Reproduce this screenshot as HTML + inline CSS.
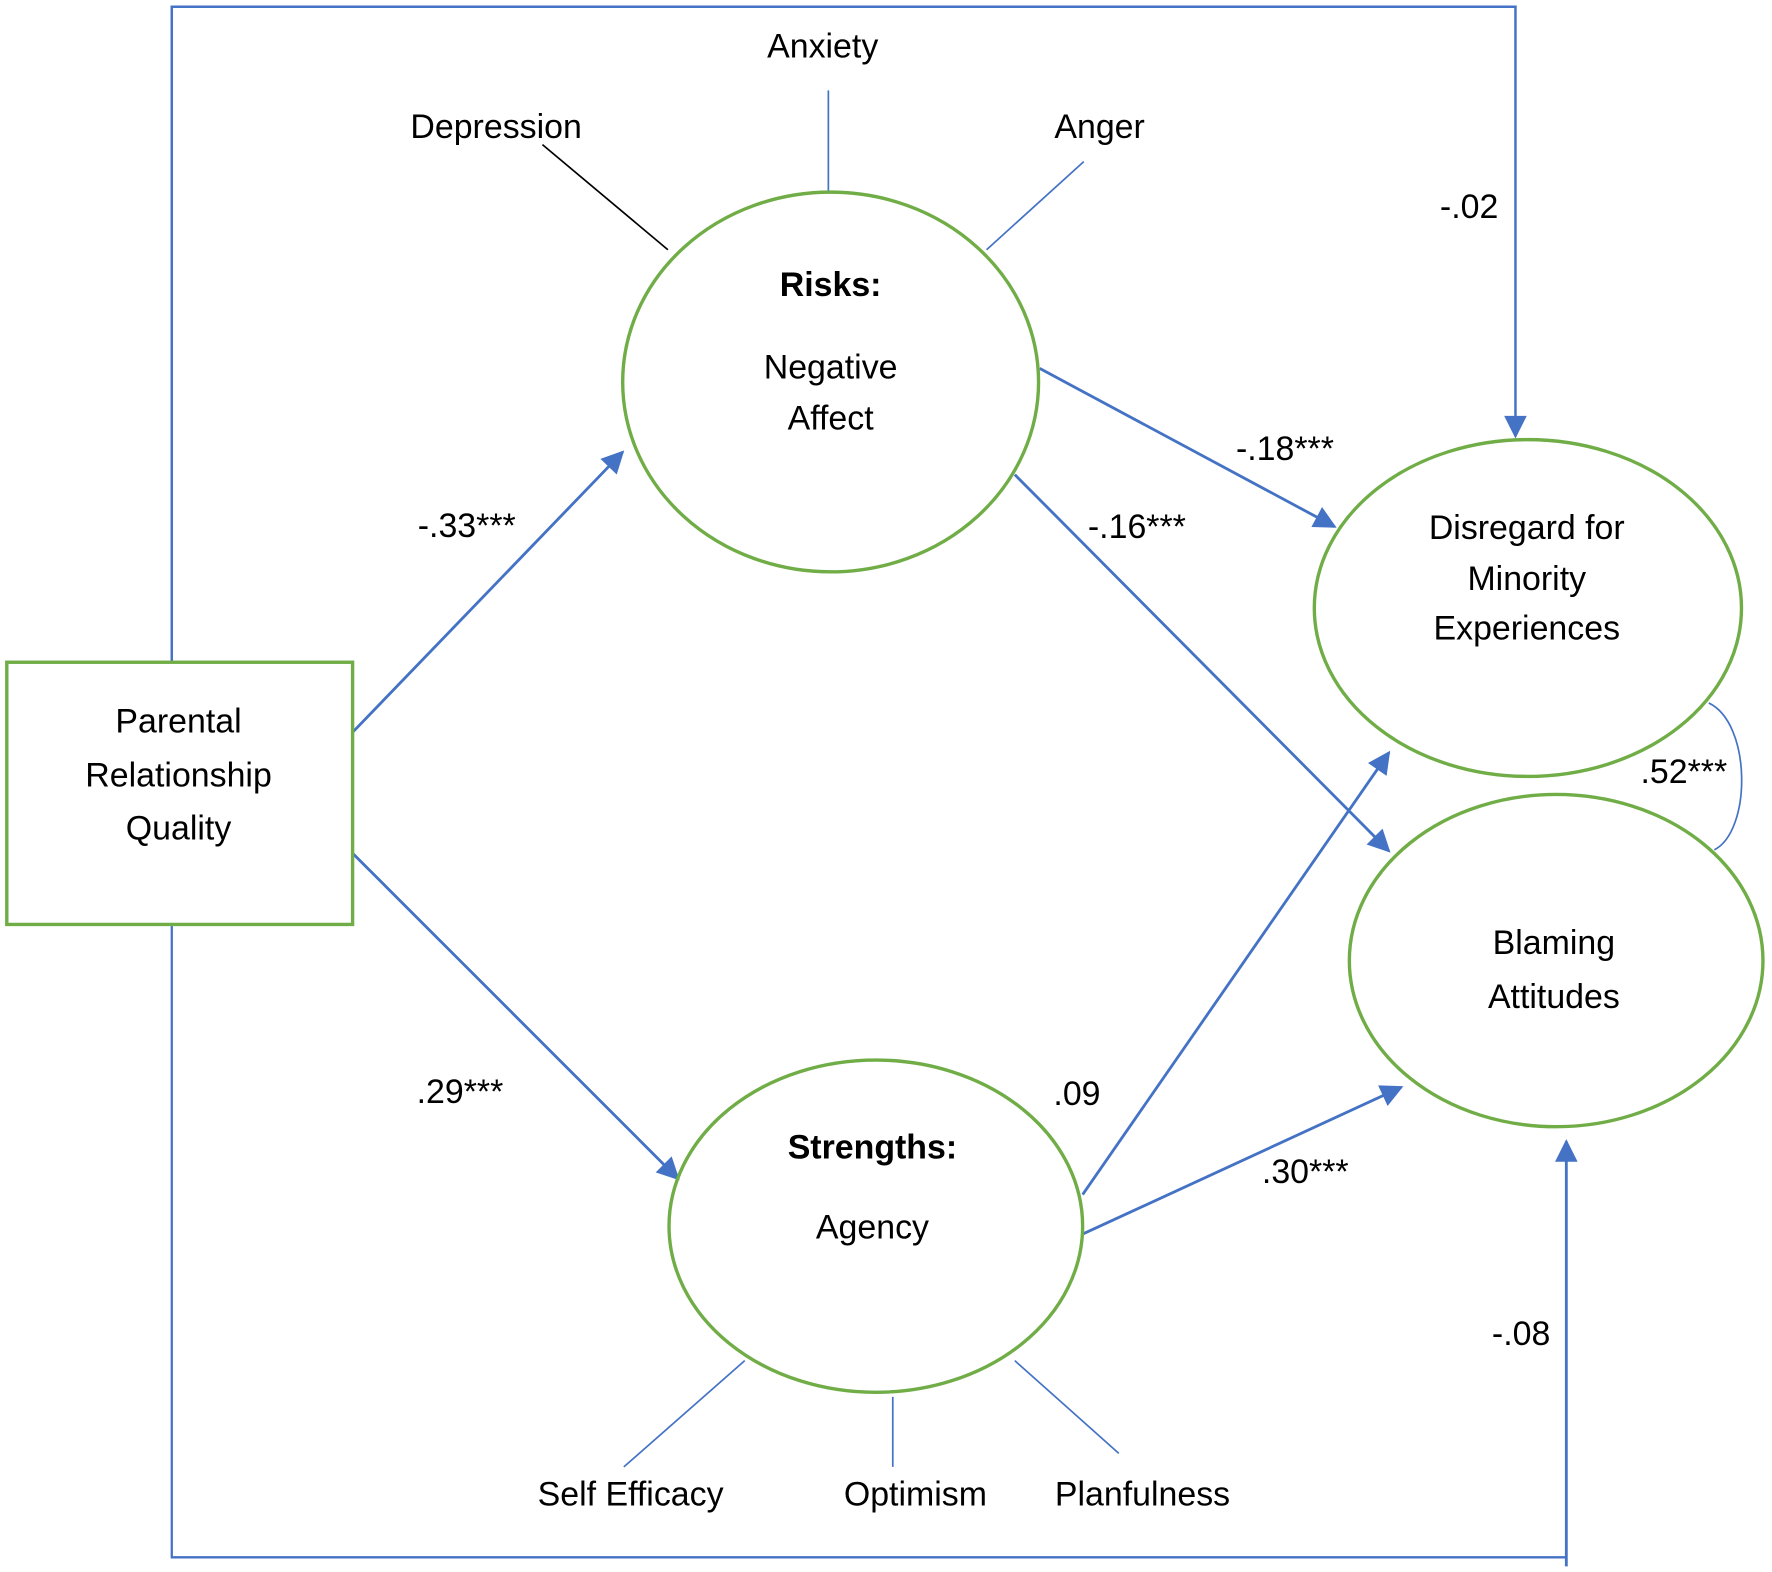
<!DOCTYPE html>
<html><head><style>html,body{margin:0;padding:0;background:#fff}svg{display:block}</style></head>
<body>
<svg width="1772" height="1572" viewBox="0 0 1568 1391" preserveAspectRatio="none" xmlns="http://www.w3.org/2000/svg">
<defs>
<marker id="ar" viewBox="0 0 10 10" refX="9" refY="5" markerWidth="22" markerHeight="20" markerUnits="userSpaceOnUse" orient="auto"><path d="M0,0 L10,5 L0,10 z" fill="#4472C4"/></marker>
</defs>
<g fill="none" stroke="#4472C4" stroke-width="2">
<polyline points="152,585 152,6 1341,6 1341,386" marker-end="url(#ar)" stroke-width="2.2"/>
<polyline points="152,818 152,1378 1386,1378"/>
<line x1="1386" y1="1386" x2="1386" y2="1010" marker-end="url(#ar)" stroke-width="2.5"/>
</g>
<g stroke="#4472C4" stroke-width="2.5" fill="none">
<line x1="312" y1="648" x2="551" y2="400" marker-end="url(#ar)"/>
<line x1="312" y1="755" x2="600" y2="1043" marker-end="url(#ar)"/>
<line x1="920" y1="326" x2="1181" y2="466" marker-end="url(#ar)"/>
<line x1="898" y1="420" x2="1229" y2="753" marker-end="url(#ar)"/>
<line x1="958" y1="1057" x2="1229" y2="666" marker-end="url(#ar)"/>
<line x1="958" y1="1092" x2="1240" y2="962" marker-end="url(#ar)"/>
</g>
<g stroke-width="1.5" fill="none">
<line x1="480" y1="128" x2="591" y2="221" stroke="#000"/>
<line x1="733" y1="80" x2="733" y2="170" stroke="#4472C4"/>
<line x1="959" y1="143" x2="873" y2="221" stroke="#4472C4"/>
<line x1="659" y1="1204" x2="552" y2="1298" stroke="#4472C4"/>
<line x1="790" y1="1236" x2="790" y2="1298" stroke="#4472C4"/>
<line x1="898" y1="1204" x2="990" y2="1286" stroke="#4472C4"/>
<path d="M1512,622 C1550,640 1550,735 1517,752" stroke="#4472C4"/>
</g>
<g fill="none" stroke="#70AD47" stroke-width="3">
<rect x="6" y="586" width="306" height="232"/>
<ellipse cx="735" cy="338" rx="184" ry="168"/>
<ellipse cx="1352" cy="538" rx="189" ry="149"/>
<ellipse cx="1377" cy="850" rx="183" ry="147"/>
<ellipse cx="775" cy="1085" rx="183" ry="147"/>
</g>
<g font-family="Liberation Sans, sans-serif" font-size="30" fill="#000" text-anchor="middle">
<text x="728" y="51">Anxiety</text>
<text x="439" y="122">Depression</text>
<text x="973" y="122">Anger</text>
<text x="1300" y="193">-.02</text>
<text x="735" y="262" font-weight="bold">Risks:</text>
<text x="735" y="335">Negative</text>
<text x="735" y="380">Affect</text>
<text x="1137" y="407">-.18***</text>
<text x="413" y="475">-.33***</text>
<text x="1006" y="476">-.16***</text>
<text x="1351" y="477">Disregard for</text>
<text x="1351" y="522">Minority</text>
<text x="1351" y="566">Experiences</text>
<text x="1490" y="693">.52***</text>
<text x="158" y="648">Parental</text>
<text x="158" y="696">Relationship</text>
<text x="158" y="743">Quality</text>
<text x="1375" y="844">Blaming</text>
<text x="1375" y="892">Attitudes</text>
<text x="407" y="976">.29***</text>
<text x="953" y="978">.09</text>
<text x="772" y="1025" font-weight="bold">Strengths:</text>
<text x="772" y="1096">Agency</text>
<text x="1155" y="1047">.30***</text>
<text x="1346" y="1190">-.08</text>
<text x="558" y="1332">Self Efficacy</text>
<text x="810" y="1332">Optimism</text>
<text x="1011" y="1332">Planfulness</text>
</g>
</svg>
</body></html>
